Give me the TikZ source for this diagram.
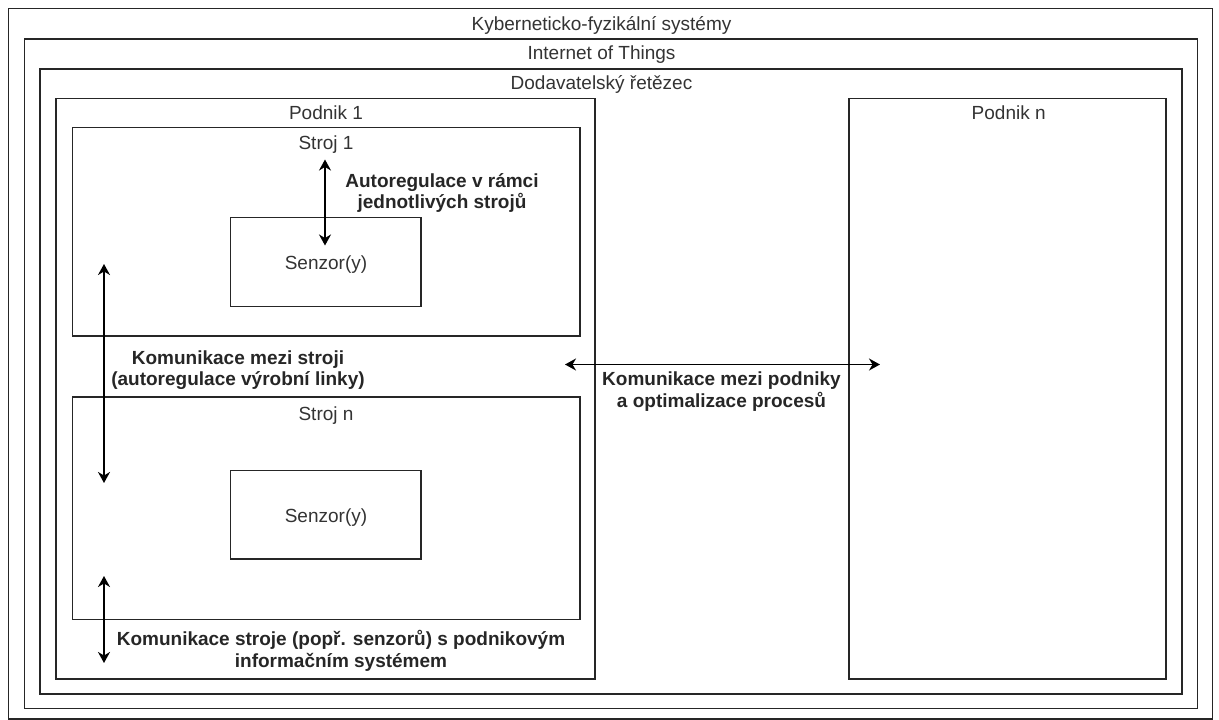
\documentclass[tikz,border=0pt]{standalone}
\usepackage{fontspec}
\setmainfont{Liberation Sans}
\usetikzlibrary{arrows.meta}
\begin{document}
\begin{tikzpicture}[x=1bp, y=-1bp,
  frame/.style={draw=black!85, line width=1.5bp, inner sep=0pt, outer sep=0pt, anchor=north west},
  title/.style={font=\fontsize{19bp}{21.5bp}\selectfont, text=black!80, inner sep=0pt, anchor=base},
  note/.style={font=\fontsize{19bp}{21.5bp}\selectfont\bfseries, text=black!85, inner sep=0pt, align=center},
  tip/.tip={Stealth[length=11bp,width=12bp,inset=3.5bp]},
  link/.style={draw=black, line width=1.6bp, tip-tip}
]
\useasboundingbox (0,0) rectangle (1219,720);

% nested frames: CPS > IoT > supply chain > companies > machines > sensors
\node[frame, minimum width=1204.4bp, minimum height=710.5bp] (cps)  at (8.3,8.3) {};
\node[frame, minimum width=1172.9bp, minimum height=669.7bp] (iot)  at (24.4,39) {};
\node[frame, minimum width=1142bp,   minimum height=625bp]   (sc)   at (40,69) {};
\node[frame, minimum width=539bp,    minimum height=580.7bp] (p1)   at (56,98.3) {};
\node[frame, minimum width=507.5bp,  minimum height=208.3bp] (s1)   at (72.5,127.7) {};
\node[frame, minimum width=190.3bp,  minimum height=89.4bp]  (sen1) at (230.7,217.3) {};
\node[frame, minimum width=507.5bp,  minimum height=222.3bp] (sn)   at (72.5,397) {};
\node[frame, minimum width=190.5bp,  minimum height=88.3bp]  (senn) at (230.5,470.7) {};
\node[frame, minimum width=317bp,    minimum height=580.7bp] (pn)   at (849,98.3) {};

% frame titles
\node[title] (cpsT)  at (601.5,30.7) {Kyberneticko-fyzikální systémy};
\node[title] (iotT)  at (601.5,60)   {Internet of Things};
\node[title] (scT)   at (601.5,90)   {Dodavatelský řetězec};
\node[title] (p1T)   at (326,119.3)  {Podnik 1};
\node[title] (pnT)   at (1008.7,119.3) {Podnik n};
\node[title] (s1T)   at (326,150)    {Stroj 1};
\node[title] (snT)   at (326,420)    {Stroj n};
\node[title] (sen1T) at (326,269.3)  {Senzor(y)};
\node[title] (sennT) at (326,522.3)  {Senzor(y)};

% communication links
\coordinate (a1top) at (325,159.5);
\coordinate (a1bot) at (325,245.5);
\coordinate (a2top) at (104,264);
\coordinate (a2bot) at (104,483);
\coordinate (a3top) at (104,576);
\coordinate (a3bot) at (104,663);
\coordinate (a4l)   at (565,364.5);
\coordinate (a4r)   at (880,364.5);

\draw[link] (a1top) -- (a1bot);
\draw[link] (a2top) -- (a2bot);
\draw[link] (a3top) -- (a3bot);
\draw[link] (a4l) -- (a4r);

% link descriptions
\node[note] (n1) at (442,193)   {Autoregulace v rámci\\jednotlivých strojů};
\node[note] (n2) at (238,370)   {Komunikace mezi stroji\\(autoregulace výrobní linky)};
\node[note] (n3) at (341,651)   {Komunikace stroje (popř. senzorů) s podnikovým\\informačním systémem};
\node[note] (n4) at (721.5,391.5) {Komunikace mezi podniky\\a optimalizace procesů};
\end{tikzpicture}
\end{document}
